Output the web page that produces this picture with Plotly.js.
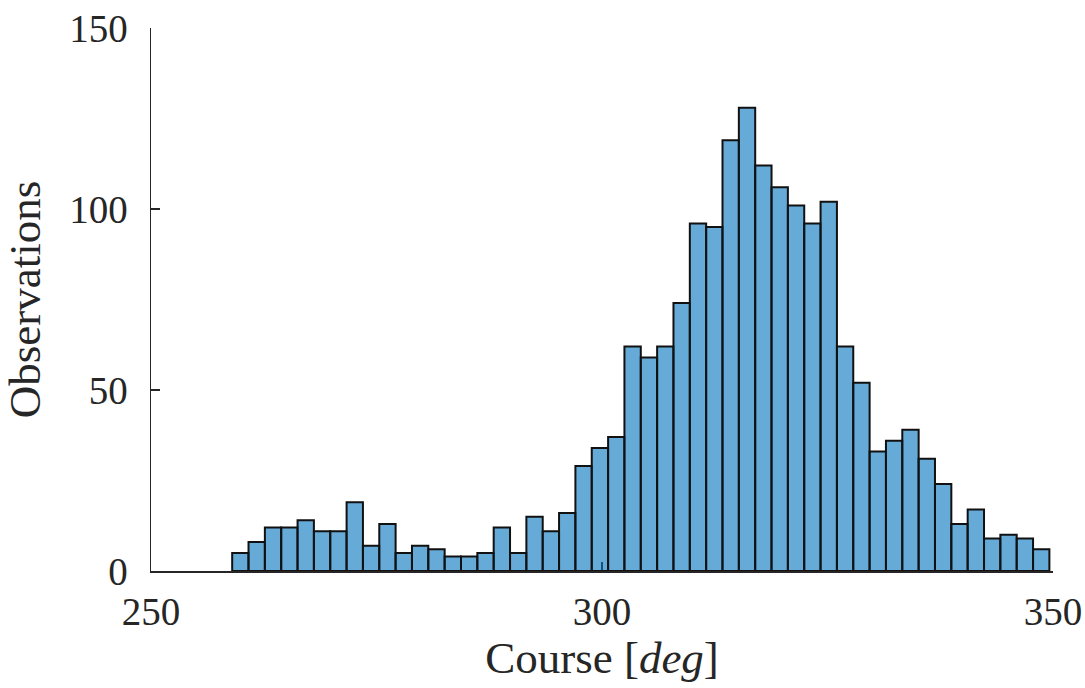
<!DOCTYPE html>
<html>
<head>
<meta charset="utf-8">
<script src="https://cdn.plot.ly/plotly-3.0.1.min.js"></script>
<style>html,body{margin:0;padding:0;background:#fff;}#chart{width:1085px;height:688px;}</style>
</head>
<body>
<div id="chart"></div>
<script>
// Histogram counts per bin
const binStart = 259.0;
const binWidth = 1.812;
const counts = [5, 8, 12, 12, 14, 11, 11, 19, 7, 13,
                5, 7, 6, 4, 4, 5, 12, 5, 15, 11,
                16, 29, 34, 37, 62, 59, 62, 74, 96, 95,
                119, 128, 112, 106, 101, 96, 102, 62, 52, 33,
                36, 39, 31, 24, 13, 17, 9, 10, 9, 6];
const xTicks = [250, 300, 350];
const yTicks = [0, 50, 100, 150];
const xTitle = 'Course [<i>deg</i>]';
const yTitle = 'Observations';

const centers = counts.map((c, i) => binStart + binWidth * (i + 0.5));

const font = 'Liberation Serif, Times New Roman, serif';
const axisColor = '#262626';

const trace = {
  type: 'bar',
  x: centers,
  y: counts,
  width: binWidth,
  marker: {
    color: 'rgba(0,114,189,0.6)',
    line: {color: '#111111', width: 2}
  },
  hoverinfo: 'x+y'
};

const layout = {
  width: 1085,
  height: 688,
  margin: {l: 151, r: 32, t: 28, b: 117, pad: 0},
  paper_bgcolor: '#ffffff',
  plot_bgcolor: '#ffffff',
  showlegend: false,
  bargap: 0,
  font: {family: font, color: axisColor},
  xaxis: {
    range: [250, 350],
    tickvals: xTicks,
    ticktext: xTicks.map(String),
    ticks: 'inside',
    ticklen: 9,
    tickwidth: 1.5,
    tickcolor: axisColor,
    showline: true,
    linecolor: axisColor,
    linewidth: 1.5,
    showgrid: false,
    zeroline: false,
    layer: 'below traces',
    tickfont: {family: font, size: 39, color: axisColor},
    ticklabelstandoff: 6,
    title: {text: xTitle, font: {family: font, size: 45, color: axisColor}, standoff: 6}
  },
  yaxis: {
    range: [0, 150],
    tickvals: yTicks,
    ticktext: yTicks.map(String),
    ticks: 'inside',
    ticklen: 9,
    tickwidth: 1.5,
    tickcolor: axisColor,
    showline: true,
    linecolor: axisColor,
    linewidth: 1.5,
    showgrid: false,
    zeroline: false,
    layer: 'below traces',
    tickfont: {family: font, size: 39, color: axisColor},
    ticklabelstandoff: 14,
    title: {text: yTitle, font: {family: font, size: 45, color: axisColor}, standoff: 18}
  }
};

Plotly.newPlot('chart', [trace], layout, {displayModeBar: false, staticPlot: true});
</script>
</body>
</html>
